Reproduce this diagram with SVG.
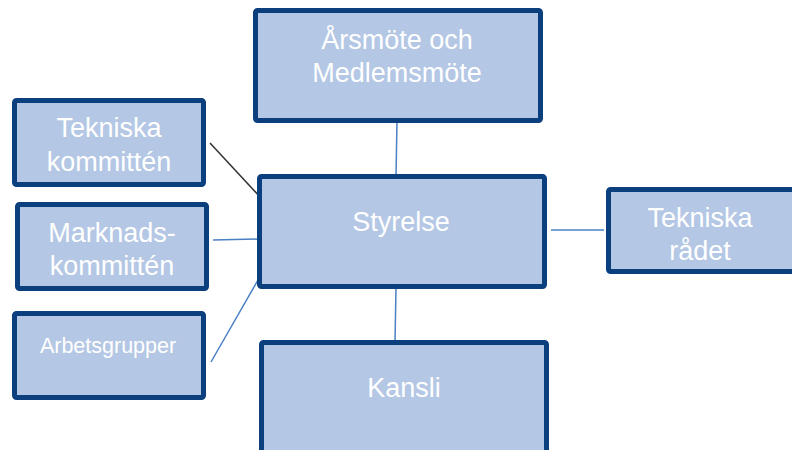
<svg xmlns="http://www.w3.org/2000/svg" width="792" height="450" viewBox="0 0 792 450">
<style>
.box{fill:#b4c7e4;stroke:#0b3f7e;stroke-width:5;}
.t{fill:#ffffff;font-family:"Liberation Sans",Arial,sans-serif;font-size:27px;text-anchor:middle;}
.s{font-size:21.5px;}
.c{stroke:#4a80c4;stroke-width:1.5;fill:none;}
.k{stroke:#333333;stroke-width:1.5;fill:none;}
</style>
<rect width="792" height="450" fill="#ffffff"/>
<g id="connectors">
<line class="c" x1="397" y1="121" x2="396" y2="176"/>
<line class="k" x1="210" y1="143" x2="262" y2="199"/>
<line class="c" x1="213" y1="240" x2="260" y2="239"/>
<line class="c" x1="211" y1="362" x2="262" y2="273"/>
<line class="c" x1="551" y1="230" x2="604" y2="230"/>
<line class="c" x1="396" y1="288" x2="395" y2="342"/>
</g>
<g id="arsmote">
<rect class="box" x="255.5" y="10.5" width="285" height="110" rx="2"/>
<text class="t" x="397" y="49">Årsmöte och</text>
<text class="t" x="397" y="82">Medlemsmöte</text>
</g>
<g id="styrelse">
<rect class="box" x="259.5" y="176.5" width="285" height="110" rx="2"/>
<text class="t" x="401" y="231">Styrelse</text>
</g>
<g id="kansli">
<rect class="box" x="261.5" y="342.5" width="285" height="120" rx="2"/>
<text class="t" x="404" y="397">Kansli</text>
</g>
<g id="tekniska-kommitten">
<rect class="box" x="14.5" y="100.5" width="189" height="84" rx="2"/>
<text class="t" x="109" y="137">Tekniska</text>
<text class="t" x="109" y="171">kommittén</text>
</g>
<g id="marknads-kommitten">
<rect class="box" x="17.5" y="204.5" width="189" height="84" rx="2"/>
<text class="t" x="112" y="242">Marknads-</text>
<text class="t" x="112" y="275">kommittén</text>
</g>
<g id="arbetsgrupper">
<rect class="box" x="14.5" y="313.5" width="189" height="84" rx="2"/>
<text class="t s" x="108" y="353">Arbetsgrupper</text>
</g>
<g id="tekniska-radet">
<rect class="box" x="608.5" y="189.5" width="190" height="82" rx="2"/>
<text class="t" x="700" y="227">Tekniska</text>
<text class="t" x="700" y="260">rådet</text>
</g>
</svg>
